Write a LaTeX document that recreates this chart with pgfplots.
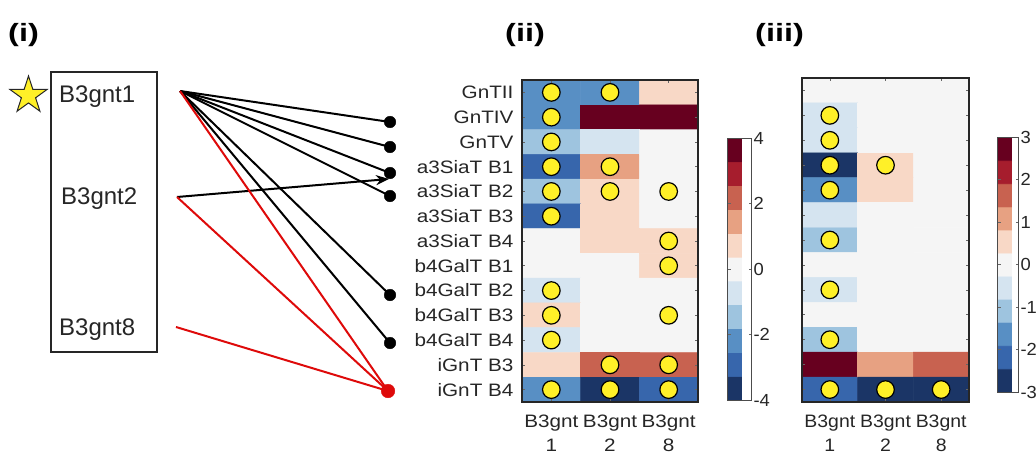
\documentclass[border=0pt]{standalone}
\usepackage{pgfplots}
\pgfplotsset{compat=1.18}
\usepackage{pgfplotstable}
\usepackage{fontspec}
\usetikzlibrary{arrows.meta}
\setmainfont{Liberation Sans}
\newfontfamily\hmfont{Liberation Sans}[FakeStretch=1.15]
\newfontfamily\hmnfont{Liberation Sans}[FakeStretch=1.08]
\newfontfamily\cbfont{Liberation Sans}[FakeStretch=1.05]
\newfontfamily\lblfont{Liberation Sans}[FakeStretch=1.3]
\newcommand\hm{\hmfont\fontsize{18}{24}\selectfont}
\newcommand\hmn{\hmnfont\fontsize{18}{24}\selectfont}
\newcommand\cb{\cbfont\fontsize{17.5}{20}\selectfont}
\newcommand\pfont{\fontsize{24}{28}\selectfont}

\definecolor{c1}{RGB}{27,53,102}
\definecolor{c2}{RGB}{55,102,172}
\definecolor{c3}{RGB}{88,143,196}
\definecolor{c4}{RGB}{158,196,223}
\definecolor{c5}{RGB}{213,228,240}
\definecolor{c6}{RGB}{245,245,245}
\definecolor{c7}{RGB}{248,216,198}
\definecolor{c8}{RGB}{231,161,130}
\definecolor{c9}{RGB}{200,98,80}
\definecolor{c10}{RGB}{166,29,45}
\definecolor{c11}{RGB}{103,0,31}
\definecolor{dotyellow}{RGB}{255,240,40}
\definecolor{linered}{RGB}{222,10,10}

\pgfplotsset{colormap={rdbu11}{
 color(0cm)=(c1) color(0.99cm)=(c1)
 color(1.01cm)=(c2) color(1.99cm)=(c2)
 color(2.01cm)=(c3) color(2.99cm)=(c3)
 color(3.01cm)=(c4) color(3.99cm)=(c4)
 color(4.01cm)=(c5) color(4.99cm)=(c5)
 color(5.01cm)=(c6) color(5.99cm)=(c6)
 color(6.01cm)=(c7) color(6.99cm)=(c7)
 color(7.01cm)=(c8) color(7.99cm)=(c8)
 color(8.01cm)=(c9) color(8.99cm)=(c9)
 color(9.01cm)=(c10) color(9.99cm)=(c10)
 color(10.01cm)=(c11) color(11cm)=(c11)}}

% panel (ii): rows 0..12 top to bottom, columns 0=B3gnt1, 1=B3gnt2, 2=B3gnt8
\pgfplotstableread{
x y v
0 0 -2.2
1 0 -2.2
2 0 0.7
0 1 -2.2
1 1 3.9
2 1 3.9
0 2 -1.5
1 2 -0.7
2 2 0
0 3 -2.9
1 3 1.5
2 3 0
0 4 -1.5
1 4 0.7
2 4 0
0 5 -2.9
1 5 0.7
2 5 0
0 6 0
1 6 0.7
2 6 0.7
0 7 0
1 7 0
2 7 0.7
0 8 -0.7
1 8 0
2 8 0
0 9 0.7
1 9 0
2 9 0
0 10 -0.7
1 10 0
2 10 0
0 11 0.7
1 11 2.2
2 11 2.2
0 12 -2.2
1 12 -3.7
2 12 -2.9
}\dataii

% panel (iii)
\pgfplotstableread{
x y v
0 0 0
1 0 0
2 0 0
0 1 -0.55
1 1 0
2 1 0
0 2 -0.55
1 2 0
2 2 0
0 3 -2.75
1 3 0.55
2 3 0
0 4 -1.65
1 4 0.55
2 4 0
0 5 -0.55
1 5 0
2 5 0
0 6 -1.1
1 6 0
2 6 0
0 7 0
1 7 0
2 7 0
0 8 -0.55
1 8 0
2 8 0
0 9 0
1 9 0
2 9 0
0 10 -1.1
1 10 0
2 10 0
0 11 2.75
1 11 1.1
2 11 1.65
0 12 -2.2
1 12 -2.75
2 12 -2.75
}\dataiii

\pgfplotsset{
  hmaxis/.style={
    anchor=south west, scale only axis,
    xmin=-0.5, xmax=2.5, ymin=-0.5, ymax=12.5, y dir=reverse,
    axis on top, axis line style={black!85, line width=1.5pt},
    tick align=inside, major tick length=3pt, tick style={black!60, line width=0.6pt},
    xtick={0,1,2}, xticklabels={{B3gnt\\1},{B3gnt\\2},{B3gnt\\8}},
    xticklabel style={align=center, font=\hm, text=black!85, yshift=-9pt},
    ytick={0,...,12},
    yticklabel style={font=\hm, text=black!85, xshift=-5pt},
    colormap name=rdbu11,
    colorbar,
  },
  cbstyle/.style={at={(parent axis.south east)}, anchor=south west,
    scale only axis,
    yticklabel style={font=\cb, text=black!85, xshift=-1.5pt},
    axis line style={black!70, line width=0.8pt}, tick align=inside, major tick length=3pt,
    tick style={black!60}},
  dots/.style={only marks, mark=*, mark size=8.8pt,
    mark options={fill=dotyellow, draw=black, line width=1.2pt}},
}

\begin{document}
\begin{tikzpicture}
\path[use as bounding box] (0,0) rectangle (1036pt,455pt);

% ---------- panel (i) ----------
\begin{axis}[at={(0pt,0pt)}, anchor=south west, scale only axis,
  width=1036pt, height=455pt, xmin=0, xmax=1036, ymin=0, ymax=455,
  y dir=reverse, hide axis, clip=false]
\addplot[black!85, line width=1.2pt] coordinates {(51,72) (157,72) (157,352) (51,352) (51,72) (157,72)};
\addplot[fill=dotyellow, draw=black!85, line width=1pt, line join=miter] coordinates {(28.5,76) (24.12,89.47) (9.95,89.47) (21.41,97.80) (17.04,111.28) (28.5,102.95) (39.96,111.28) (35.59,97.80) (47.05,89.47) (32.88,89.47) (28.5,76) (24.12,89.47)};
% black edges from B3gnt1
\addplot[black, line width=2pt] coordinates {(180,91) (390,122)};
\addplot[black, line width=2pt] coordinates {(180,91) (390,147)};
\addplot[black, line width=2pt] coordinates {(180,91) (390,173)};
\addplot[black, line width=2pt] coordinates {(180,91) (390,196)};
\addplot[black, line width=2pt] coordinates {(180,91) (390,295)};
\addplot[black, line width=2pt] coordinates {(180,91) (390,343)};
% arrow from B3gnt2
\addplot[black, line width=2pt, -{Stealth[length=13pt,width=10pt]}] coordinates {(177,197) (389,179)};
% red edges
\addplot[linered, line width=2pt] coordinates {(180,91) (388,391)};
\addplot[linered, line width=2pt] coordinates {(177,197) (388,391)};
\addplot[linered, line width=2pt] coordinates {(176,327) (388,391)};
% end points
\addplot[only marks, mark=*, mark size=5.8pt, black] coordinates {(390,122) (390,147) (390,173) (390,196) (390,295) (390,343)};
\addplot[only marks, mark=*, mark size=6.8pt, linered] coordinates {(388,391)};
% texts
\node[anchor=base west, inner sep=0, text=black!85] at (axis cs:59,102) {\pfont B3gnt1};
\node[anchor=base west, inner sep=0, text=black!85] at (axis cs:61,204) {\pfont B3gnt2};
\node[anchor=base west, inner sep=0, text=black!85] at (axis cs:59,335) {\pfont B3gnt8};
\node[anchor=base west, inner sep=0] at (axis cs:8,41.5) {\lblfont\bfseries\fontsize{25}{28}\selectfont (i)};
\node[anchor=base west, inner sep=0] at (axis cs:505,41.5) {\lblfont\bfseries\fontsize{25}{28}\selectfont (ii)};
\node[anchor=base west, inner sep=0] at (axis cs:755,41.5) {\lblfont\bfseries\fontsize{25}{28}\selectfont (iii)};
\end{axis}

% ---------- panel (ii) ----------
\begin{axis}[hmaxis, at={(522pt,53pt)}, width=176pt, height=322pt,
  yticklabels={GnTII,GnTIV,GnTV,a3SiaT B1,a3SiaT B2,a3SiaT B3,a3SiaT B4,b4GalT B1,b4GalT B2,b4GalT B3,b4GalT B4,iGnT B3,iGnT B4},
  point meta min=-4, point meta max=4,
  colorbar style={cbstyle, xshift=21pt, yshift=2pt, width=24pt, height=262pt,
    ytick={-4,-2,0,2,4}, yticklabels={-4,-2,0,2,4}}]
\addplot[matrix plot*, mesh/cols=3, point meta=explicit] table[meta=v] {\dataii};
\addplot[dots] coordinates {(0,0) (1,0) (0,1) (0,2) (0,3) (1,3) (0,4) (1,4) (2,4) (0,5) (2,6) (2,7) (0,8) (0,9) (2,9) (0,10) (1,11) (2,11) (0,12) (1,12) (2,12)};
\end{axis}

% ---------- panel (iii) ----------
\begin{axis}[hmaxis, at={(802pt,53pt)}, width=167pt, height=324pt,
  yticklabels={},
  xticklabel style={font=\hmn},
  point meta min=-3, point meta max=3,
  colorbar style={cbstyle, xshift=20pt, yshift=10pt, width=21pt, height=255pt,
    ytick={-3,-2,-1,0,1,2,3}, yticklabels={-3,-2,-1,0,1,2,3}}]
\addplot[matrix plot*, mesh/cols=3, point meta=explicit] table[meta=v] {\dataiii};
\addplot[dots] coordinates {(0,1) (0,2) (0,3) (1,3) (0,4) (0,6) (0,8) (0,10) (0,12) (1,12) (2,12)};
\end{axis}
\end{tikzpicture}
\end{document}
